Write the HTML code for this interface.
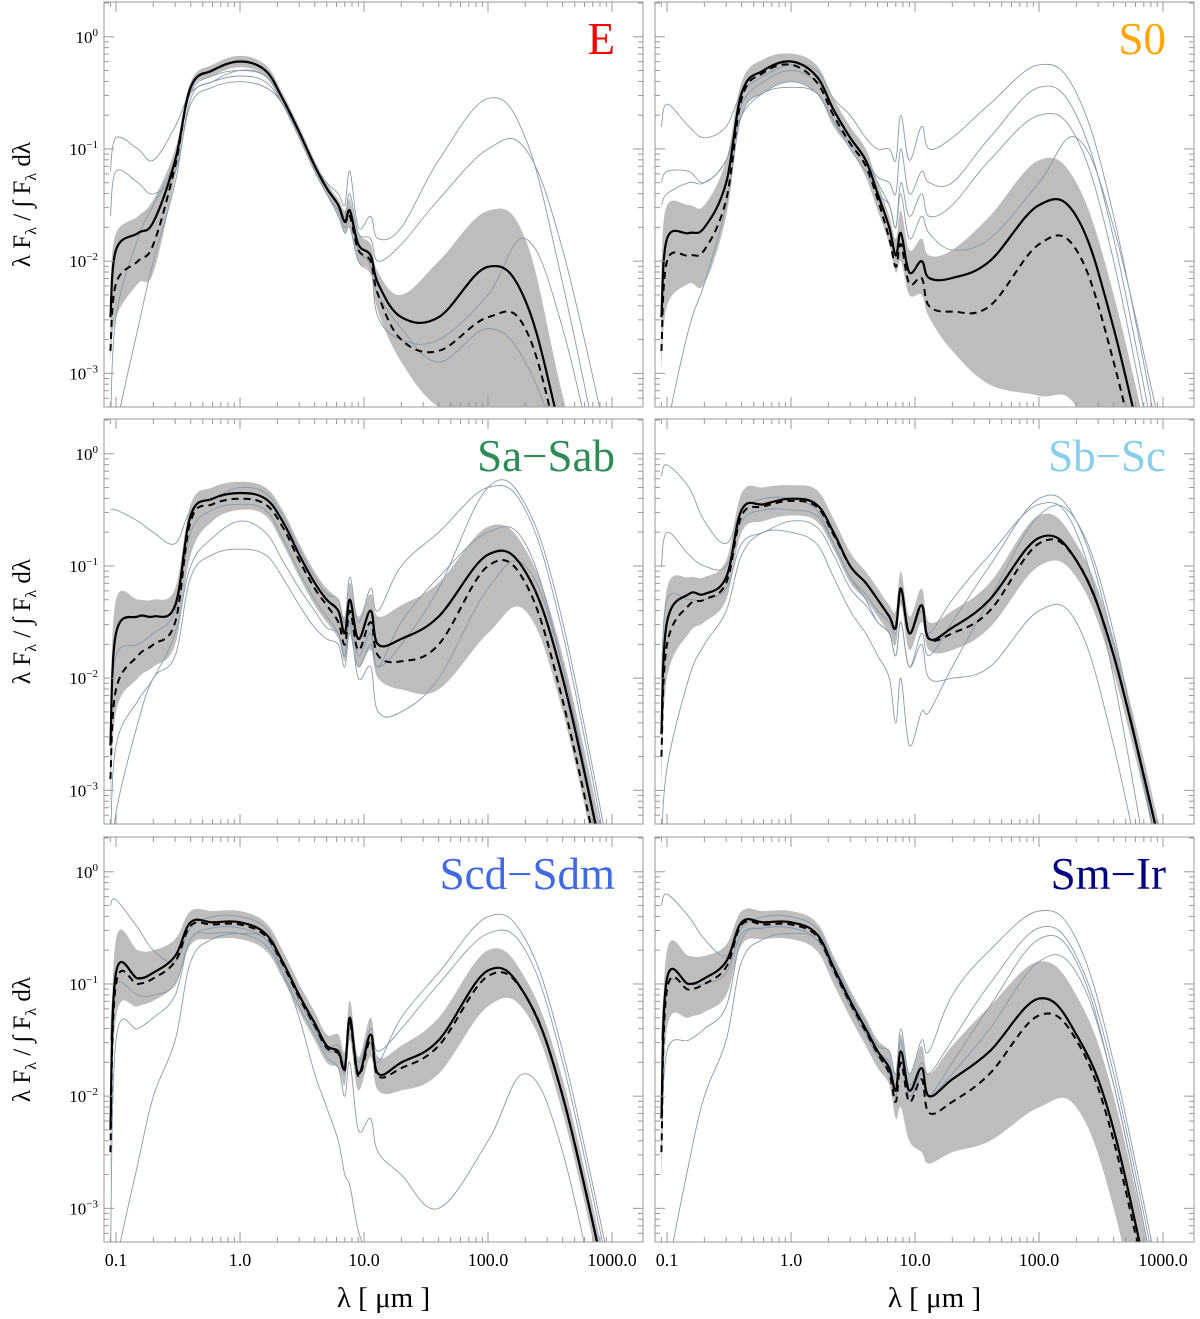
<!DOCTYPE html>
<html><head><meta charset="utf-8">
<style>
html,body{margin:0;padding:0;background:#fff;width:1200px;height:1319px;overflow:hidden;}
svg{display:block;font-family:"Liberation Serif",serif;}
</style></head>
<body>
<svg id="fig" width="1200" height="1319" viewBox="0 0 1200 1319" xmlns="http://www.w3.org/2000/svg"></svg>
<script>
// wavelength grid (micron)
const wavelengths=[0.09,0.1,0.15,0.2,0.3,0.4,0.6,1.0,1.6,2.2,3,4,5,6.2,7,7.7,9,11.3,13,20,40,100,200,400,1000];
const xTickValues=[0.1,1,10,100,1000];
const xTickLabels=["0.1","1.0","10.0","100.0","1000.0"];
const yTickValues=[0,-1,-2,-3];
const yTickLabels=["0","-1","-2","-3"];
const panelTitles=["E","S0","Sa\u2212Sab","Sb\u2212Sc","Scd\u2212Sdm","Sm\u2212Ir"];
const panelColors=["#ff0000","#ffa500","#2e8b57","#87ceeb","#4169e1","#000080"];
// log10 values
const E_mean=[-2.5,-1.9,-1.75,-1.65,-1.1,-0.45,-0.3,-0.22,-0.3,-0.55,-0.85,-1.15,-1.35,-1.5,-1.65,-1.55,-1.85,-1.95,-2.2,-2.5,-2.5,-2.05,-2.35,-3.6,-5.5];
const E_med=[-2.8,-2.2,-2.0,-1.85,-1.15,-0.45,-0.3,-0.22,-0.3,-0.55,-0.85,-1.15,-1.35,-1.5,-1.65,-1.6,-1.9,-2.0,-2.3,-2.7,-2.8,-2.5,-2.6,-3.8,-5.8];
const E_lo=[-2.9,-2.5,-2.2,-2.1,-1.25,-0.5,-0.35,-0.27,-0.35,-0.6,-0.9,-1.2,-1.4,-1.6,-1.75,-1.7,-2.0,-2.1,-2.45,-2.9,-3.3,-3.4,-3.6,-4.6,-6.5];
const E_hi=[-2.2,-1.75,-1.6,-1.45,-1.0,-0.4,-0.25,-0.17,-0.25,-0.5,-0.8,-1.1,-1.3,-1.45,-1.55,-1.45,-1.75,-1.85,-2.1,-2.3,-2.0,-1.55,-1.8,-3.2,-5.0];
const E_g1=[-1.2,-0.9,-1.0,-1.1,-0.8,-0.5,-0.4,-0.35,-0.4,-0.6,-0.85,-1.15,-1.3,-1.4,-1.5,-1.2,-1.7,-1.6,-1.8,-1.7,-1.1,-0.55,-0.9,-2.2,-4.3];
const E_g2=[-3.5,-2.5,-1.8,-1.5,-1.1,-0.5,-0.35,-0.3,-0.35,-0.55,-0.85,-1.15,-1.35,-1.5,-1.6,-1.4,-1.75,-1.8,-2.0,-1.85,-1.45,-1.0,-1.0,-1.9,-3.8];
const E_g3=[-1.6,-1.2,-1.3,-1.4,-1.2,-0.6,-0.45,-0.4,-0.45,-0.6,-0.9,-1.2,-1.4,-1.55,-1.7,-1.6,-1.9,-2.05,-2.5,-2.7,-2.7,-2.3,-1.8,-2.6,-4.5];
const E_g4=[-4,-3.5,-2.6,-2.0,-1.3,-0.55,-0.4,-0.3,-0.35,-0.6,-0.9,-1.2,-1.4,-1.6,-1.75,-1.7,-2.0,-2.1,-2.3,-2.6,-2.9,-2.6,-2.9,-3.8,-5.5];
const S0_mean=[-2.5,-1.8,-1.75,-1.7,-1.3,-0.5,-0.3,-0.22,-0.35,-0.65,-0.9,-1.1,-1.4,-1.7,-1.95,-1.75,-2.1,-2.0,-2.15,-2.15,-2.0,-1.5,-1.6,-2.6,-4.5];
const S0_med=[-2.8,-2.0,-1.95,-1.9,-1.45,-0.55,-0.32,-0.25,-0.4,-0.7,-0.95,-1.15,-1.45,-1.8,-2.05,-1.85,-2.2,-2.15,-2.4,-2.45,-2.4,-1.85,-1.9,-2.9,-4.8];
const S0_lo=[-3.0,-2.4,-2.2,-2.2,-1.6,-0.7,-0.5,-0.4,-0.5,-0.8,-1.0,-1.25,-1.55,-1.85,-2.1,-2.0,-2.3,-2.3,-2.5,-2.8,-3.1,-3.2,-3.3,-4.3,-6.2];
const S0_hi=[-2.0,-1.5,-1.5,-1.5,-1.1,-0.4,-0.2,-0.15,-0.25,-0.55,-0.8,-1.0,-1.3,-1.6,-1.8,-1.55,-1.9,-1.8,-1.95,-1.9,-1.6,-1.1,-1.3,-2.3,-4.2];
const S0_g1=[-0.8,-0.6,-0.8,-0.9,-0.8,-0.5,-0.35,-0.25,-0.3,-0.55,-0.7,-0.9,-1.0,-1.0,-1.1,-0.7,-1.1,-0.8,-1.0,-0.9,-0.6,-0.25,-0.5,-1.6,-3.8];
const S0_g2=[-1.3,-1.2,-1.2,-1.3,-1.1,-0.7,-0.5,-0.4,-0.5,-0.75,-0.95,-1.1,-1.25,-1.3,-1.4,-1.0,-1.4,-1.2,-1.3,-1.3,-0.9,-0.45,-0.7,-1.8,-4.0];
const S0_g3=[-4,-3.5,-2.6,-2.2,-1.5,-0.7,-0.5,-0.45,-0.5,-0.75,-1.0,-1.2,-1.4,-1.5,-1.7,-1.3,-1.6,-1.4,-1.6,-1.5,-1.1,-0.7,-0.9,-2.0,-4.2];
const S0_g4=[-1.5,-1.4,-1.3,-1.3,-1.1,-0.6,-0.4,-0.3,-0.4,-0.65,-0.9,-1.1,-1.3,-1.5,-1.7,-1.4,-1.8,-1.6,-1.75,-1.9,-1.8,-1.3,-0.9,-1.7,-3.6];
const Sa_mean=[-2.6,-1.6,-1.45,-1.45,-1.35,-0.55,-0.4,-0.35,-0.4,-0.6,-0.9,-1.15,-1.3,-1.4,-1.6,-1.3,-1.65,-1.4,-1.7,-1.65,-1.45,-0.9,-1.05,-2.0,-4.0];
const Sa_med=[-2.9,-2.1,-1.8,-1.7,-1.5,-0.6,-0.45,-0.4,-0.45,-0.65,-0.95,-1.2,-1.35,-1.5,-1.7,-1.4,-1.75,-1.5,-1.8,-1.85,-1.7,-1.0,-1.15,-2.2,-4.2];
const Sa_lo=[-3.2,-2.3,-2.0,-1.9,-1.7,-0.9,-0.6,-0.5,-0.55,-0.8,-1.1,-1.35,-1.5,-1.65,-1.85,-1.6,-1.9,-1.75,-2.0,-2.1,-2.1,-1.6,-1.4,-2.3,-4.3];
const Sa_hi=[-2.3,-1.3,-1.3,-1.3,-1.2,-0.45,-0.3,-0.25,-0.3,-0.5,-0.8,-1.05,-1.2,-1.3,-1.45,-1.15,-1.45,-1.25,-1.45,-1.35,-1.15,-0.65,-0.85,-1.8,-3.8];
const Sa_g1=[-0.5,-0.5,-0.6,-0.7,-0.8,-0.5,-0.4,-0.3,-0.35,-0.55,-0.85,-1.1,-1.25,-1.3,-1.5,-1.1,-1.5,-1.2,-1.4,-1.0,-0.7,-0.3,-0.5,-1.6,-3.8];
const Sa_g2=[-3.5,-2.6,-2.2,-2.0,-1.6,-1.0,-0.75,-0.6,-0.7,-0.95,-1.2,-1.4,-1.55,-1.6,-1.8,-1.4,-1.8,-1.6,-1.9,-1.5,-1.1,-0.7,-0.8,-1.9,-4.0];
const Sa_g3=[-2.5,-1.8,-1.7,-1.6,-1.4,-0.7,-0.5,-0.45,-0.5,-0.75,-1.05,-1.3,-1.45,-1.6,-1.8,-1.5,-2.0,-1.9,-2.3,-2.3,-2.0,-1.2,-1.0,-1.9,-4.0];
const Sa_g4=[-3.8,-3.2,-2.4,-2.0,-1.8,-1.1,-0.9,-0.85,-0.9,-1.1,-1.35,-1.55,-1.65,-1.7,-1.9,-1.6,-1.9,-1.7,-1.9,-1.7,-1.2,-0.3,-0.45,-1.5,-3.7];
const Sb_mean=[-2.5,-1.5,-1.25,-1.25,-1.1,-0.5,-0.45,-0.4,-0.45,-0.7,-1.0,-1.15,-1.3,-1.45,-1.55,-1.2,-1.6,-1.35,-1.65,-1.55,-1.3,-0.75,-0.95,-1.8,-3.6];
const Sb_med=[-2.7,-1.7,-1.35,-1.3,-1.15,-0.55,-0.47,-0.42,-0.47,-0.72,-1.0,-1.15,-1.3,-1.45,-1.55,-1.2,-1.6,-1.35,-1.65,-1.6,-1.4,-0.8,-0.95,-1.8,-3.6];
const Sb_lo=[-3.0,-2.0,-1.6,-1.5,-1.3,-0.7,-0.6,-0.55,-0.6,-0.85,-1.15,-1.3,-1.45,-1.6,-1.7,-1.35,-1.75,-1.5,-1.75,-1.75,-1.55,-1.0,-1.1,-1.95,-3.75];
const Sb_hi=[-2.2,-1.2,-1.1,-1.1,-0.95,-0.35,-0.3,-0.28,-0.32,-0.58,-0.88,-1.05,-1.2,-1.35,-1.4,-1.05,-1.45,-1.2,-1.5,-1.4,-1.15,-0.55,-0.8,-1.65,-3.45];
const Sb_g1=[-0.2,-0.1,-0.3,-0.6,-0.8,-0.5,-0.4,-0.4,-0.5,-0.8,-1.1,-1.3,-1.5,-1.6,-1.8,-1.5,-1.9,-1.6,-1.8,-1.5,-1.0,-0.4,-0.6,-1.7,-3.8];
const Sb_g2=[-3.5,-2.8,-2.0,-1.7,-1.4,-0.9,-0.7,-0.7,-0.8,-1.1,-1.4,-1.6,-1.8,-2.0,-2.4,-2.0,-2.6,-2.3,-2.3,-1.9,-1.3,-0.55,-0.6,-1.6,-3.8];
const Sb_g3=[-2.0,-1.3,-1.3,-1.3,-1.2,-0.8,-0.7,-0.6,-0.65,-0.9,-1.2,-1.35,-1.5,-1.6,-1.8,-1.5,-1.9,-1.7,-2.0,-2.0,-1.9,-1.4,-1.5,-2.6,-4.7];
const Sb_g4=[-1.0,-0.7,-0.9,-1.0,-1.0,-0.6,-0.5,-0.5,-0.55,-0.8,-1.1,-1.25,-1.4,-1.5,-1.6,-1.3,-1.6,-1.4,-1.6,-1.3,-0.9,-0.45,-0.7,-2.0,-4.5];
const Scd_mean=[-2.3,-0.9,-0.95,-0.9,-0.75,-0.45,-0.45,-0.45,-0.55,-0.8,-1.1,-1.35,-1.55,-1.6,-1.75,-1.3,-1.8,-1.45,-1.8,-1.7,-1.5,-0.88,-1.1,-2.0,-3.9];
const Scd_med=[-2.5,-1.0,-1.0,-0.95,-0.8,-0.48,-0.47,-0.47,-0.57,-0.82,-1.12,-1.37,-1.57,-1.62,-1.77,-1.35,-1.82,-1.5,-1.82,-1.75,-1.55,-0.93,-1.1,-2.0,-3.9];
const Scd_lo=[-2.8,-1.3,-1.2,-1.15,-1.0,-0.65,-0.6,-0.6,-0.7,-0.95,-1.25,-1.5,-1.7,-1.75,-1.9,-1.5,-1.95,-1.65,-1.95,-1.95,-1.8,-1.2,-1.25,-2.15,-4.05];
const Scd_hi=[-2.0,-0.6,-0.7,-0.7,-0.6,-0.35,-0.35,-0.35,-0.45,-0.7,-1.0,-1.25,-1.45,-1.45,-1.6,-1.15,-1.65,-1.3,-1.65,-1.55,-1.3,-0.7,-0.95,-1.85,-3.75];
const Scd_g1=[-0.3,-0.25,-0.5,-0.7,-0.8,-0.5,-0.4,-0.4,-0.5,-0.8,-1.1,-1.4,-1.6,-1.6,-1.8,-1.4,-1.8,-1.5,-1.7,-1.3,-0.9,-0.4,-0.6,-1.6,-3.6];
const Scd_g2=[-3.5,-1.5,-1.4,-1.3,-1.1,-0.6,-0.55,-0.55,-0.65,-0.9,-1.2,-1.45,-1.65,-1.75,-2.0,-1.7,-2.3,-2.2,-2.5,-2.7,-3.0,-2.4,-1.8,-2.5,-4.5];
const Scd_g3=[-4.0,-3.5,-2.6,-2.0,-1.5,-0.8,-0.6,-0.55,-0.6,-0.9,-1.3,-1.8,-2.1,-2.4,-2.7,-2.8,-3.2,-3.5,-3.8,-4.5,-5.5,-7,-8,-9,-10];
const Scd_g4=[-1.5,-1.0,-1.1,-1.1,-1.0,-0.6,-0.5,-0.5,-0.6,-0.85,-1.15,-1.4,-1.55,-1.55,-1.7,-1.3,-1.7,-1.4,-1.6,-1.4,-1.0,-0.55,-0.7,-1.7,-3.7];
const Sm_mean=[-2.2,-0.95,-1.0,-0.95,-0.8,-0.45,-0.45,-0.45,-0.55,-0.85,-1.15,-1.4,-1.6,-1.75,-1.95,-1.6,-1.95,-1.75,-2.0,-1.85,-1.6,-1.13,-1.45,-2.3,-4.3];
const Sm_med=[-2.5,-1.05,-1.05,-1.0,-0.85,-0.47,-0.47,-0.47,-0.57,-0.87,-1.17,-1.42,-1.62,-1.8,-2.05,-1.7,-2.05,-1.85,-2.15,-2.05,-1.8,-1.28,-1.5,-2.4,-4.4];
const Sm_lo=[-2.8,-1.4,-1.3,-1.25,-1.1,-0.65,-0.6,-0.6,-0.7,-1.0,-1.3,-1.55,-1.75,-1.9,-2.2,-2.1,-2.4,-2.5,-2.6,-2.5,-2.4,-2.1,-2.1,-3.0,-5.0];
const Sm_hi=[-2.0,-0.7,-0.75,-0.75,-0.65,-0.35,-0.35,-0.35,-0.45,-0.75,-1.05,-1.3,-1.5,-1.6,-1.8,-1.45,-1.8,-1.55,-1.8,-1.55,-1.2,-0.8,-1.1,-2.0,-4.0];
const Sm_g1=[-0.3,-0.2,-0.4,-0.6,-0.75,-0.5,-0.4,-0.4,-0.5,-0.8,-1.1,-1.35,-1.55,-1.6,-1.8,-1.4,-1.8,-1.5,-1.6,-1.1,-0.7,-0.35,-0.6,-1.7,-3.8];
const Sm_g2=[-4,-3.6,-2.6,-2.0,-1.5,-0.8,-0.6,-0.55,-0.6,-0.9,-1.2,-1.45,-1.65,-1.75,-2.0,-1.7,-2.0,-1.85,-2.0,-1.7,-1.2,-0.6,-0.8,-1.9,-4.0];
const Sm_g3=[-1.5,-1.0,-1.0,-1.0,-0.9,-0.55,-0.5,-0.5,-0.6,-0.9,-1.2,-1.45,-1.65,-1.8,-2.0,-1.6,-2.0,-1.8,-2.0,-1.8,-1.4,-0.8,-0.9,-1.9,-4.0];
const Sm_g4=[-2.5,-1.6,-1.5,-1.4,-1.2,-0.6,-0.5,-0.5,-0.6,-0.9,-1.2,-1.45,-1.6,-1.7,-1.9,-1.5,-1.9,-1.7,-1.8,-1.5,-1.0,-0.5,-0.75,-1.8,-3.9];

const panels=[
 {name:"e",mean:E_mean,med:E_med,lo:E_lo,hi:E_hi,greys:[E_g1,E_g2,E_g3,E_g4]},
 {name:"s0",mean:S0_mean,med:S0_med,lo:S0_lo,hi:S0_hi,greys:[S0_g1,S0_g2,S0_g3,S0_g4]},
 {name:"sa-sab",mean:Sa_mean,med:Sa_med,lo:Sa_lo,hi:Sa_hi,greys:[Sa_g1,Sa_g2,Sa_g3,Sa_g4]},
 {name:"sb-sc",mean:Sb_mean,med:Sb_med,lo:Sb_lo,hi:Sb_hi,greys:[Sb_g1,Sb_g2,Sb_g3,Sb_g4]},
 {name:"scd-sdm",mean:Scd_mean,med:Scd_med,lo:Scd_lo,hi:Scd_hi,greys:[Scd_g1,Scd_g2,Scd_g3,Scd_g4]},
 {name:"sm-ir",mean:Sm_mean,med:Sm_med,lo:Sm_lo,hi:Sm_hi,greys:[Sm_g1,Sm_g2,Sm_g3,Sm_g4]}
];

const NS="http://www.w3.org/2000/svg";
const svg=document.getElementById('fig');
function mk(tag,attrs,parent){const e=document.createElementNS(NS,tag);for(const k in attrs)e.setAttribute(k,attrs[k]);(parent||svg).appendChild(e);return e;}

// Catmull-Rom smoothed path through points
function smooth(pts,start){
  let d=(start?'M':'L')+pts[0][0].toFixed(1)+','+pts[0][1].toFixed(1);
  for(let i=0;i<pts.length-1;i++){
    const p0=pts[Math.max(0,i-1)],p1=pts[i],p2=pts[i+1],p3=pts[Math.min(pts.length-1,i+2)];
    const t=0.18;
    const c1=[p1[0]+(p2[0]-p0[0])*t,p1[1]+(p2[1]-p0[1])*t];
    const c2=[p2[0]-(p3[0]-p1[0])*t,p2[1]-(p3[1]-p1[1])*t];
    d+='C'+c1[0].toFixed(1)+','+c1[1].toFixed(1)+' '+c2[0].toFixed(1)+','+c2[1].toFixed(1)+' '+p2[0].toFixed(1)+','+p2[1].toFixed(1);
  }
  return d;
}

const colX=[104,655], colW=539;
const rowY=[2,419,837], rowH=405;
const XMIN=-1.097, XMAX=3.25, YMIN=-3.3, YMAX=0.31;

panels.forEach((p,i)=>{
  const c=i%2, r=Math.floor(i/2);
  const L=colX[c], T=rowY[r], W=colW, H=rowH;
  const xs=v=>L+(Math.log10(v)-XMIN)/(XMAX-XMIN)*W;
  const ys=lv=>T+(YMAX-lv)/(YMAX-YMIN)*H;
  const g=mk('g',{});
  
  
  const cp=mk('clipPath',{id:'cp'+i},g);
  mk('rect',{x:L,y:T,width:W,height:H},cp);
  const plot=mk('g',{'clip-path':'url(#cp'+i+')'},g);
  const pts=arr=>arr.map((v,k)=>[xs(wavelengths[k]),ys(v)]);
  // band
  const top=pts(p.hi), bot=pts(p.lo).reverse();
  const band=mk('path',{d:smooth(top,true)+smooth(bot,false)+'Z',fill:'#bdbdbd',stroke:'none'},plot);
  
  
  const line=(arr,attrs,nm)=>{
    const e=mk('path',Object.assign({d:smooth(pts(arr),true),fill:'none'},attrs),plot);
    
    
  };
  p.greys.forEach((gr,j)=>line(gr,{stroke:'#8a99a8','stroke-width':0.9},'galaxy-sed-'+(j+1)));
  line(p.med,{stroke:'#000','stroke-width':2,'stroke-dasharray':'7,5'},'median-sed');
  line(p.mean,{stroke:'#000','stroke-width':2.2},'mean-sed');
  const fr=mk('rect',{x:L,y:T,width:W,height:H,fill:'none',stroke:'#999','stroke-width':1},g);
  
  
  for(let dec=-2;dec<=3;dec++){for(let m=1;m<10;m++){
    const v=m*Math.pow(10,dec);const lx=Math.log10(v);if(lx<XMIN||lx>XMAX)continue;
    const x=xs(v);const len=m===1?10:5;
    mk('line',{x1:x,x2:x,y1:T+H,y2:T+H-len,stroke:'#999'},g);
    mk('line',{x1:x,x2:x,y1:T,y2:T+len,stroke:'#999'},g);
  }}
  for(let dec=-4;dec<=0;dec++){for(let m=1;m<10;m++){
    const lv=Math.log10(m*Math.pow(10,dec));if(lv<YMIN||lv>YMAX)continue;
    const y=ys(lv);const len=m===1?10:5;
    mk('line',{x1:L,x2:L+len,y1:y,y2:y,stroke:'#999'},g);
    mk('line',{x1:L+W,x2:L+W-len,y1:y,y2:y,stroke:'#999'},g);
  }}
  if(c===0){
    yTickValues.forEach((v,k)=>{
      const t=mk('text',{x:L-6,y:ys(v)+6,'text-anchor':'end','font-size':17,fill:'#000'},g);
      t.innerHTML='10<tspan dy="-7" font-size="11">'+(yTickLabels[k]==="0"?"0":"\u2212"+yTickLabels[k].slice(1))+'</tspan>';
      
      
    });
    const yt=mk('text',{x:0,y:0,'text-anchor':'middle','font-size':25,fill:'#000',transform:'translate(30,'+(T+H/2)+') rotate(-90)'},g);
    yt.innerHTML='λ F<tspan dy="6" font-size="16">λ</tspan><tspan dy="-6">  / ∫ F</tspan><tspan dy="6" font-size="16">λ</tspan><tspan dy="-6"> dλ</tspan>';
    
    
  }
  if(r===2){
    xTickValues.forEach((v,k)=>{
      const t=mk('text',{x:xs(v),y:T+H+24,'text-anchor':'middle','font-size':18,fill:'#000'},g);
      t.textContent=xTickLabels[k];
      
      
    });
    const xt=mk('text',{x:L+W/2+10,y:1307,'text-anchor':'middle','font-size':29,fill:'#000'},g);
    xt.textContent='λ [ μm ]';
    
    
  }
  const tt=mk('text',{x:L+W-28,y:T+52,'text-anchor':'end','font-size':45,fill:panelColors[i]},g);
  tt.textContent=panelTitles[i];
  
  
});
</script>
</body></html>
